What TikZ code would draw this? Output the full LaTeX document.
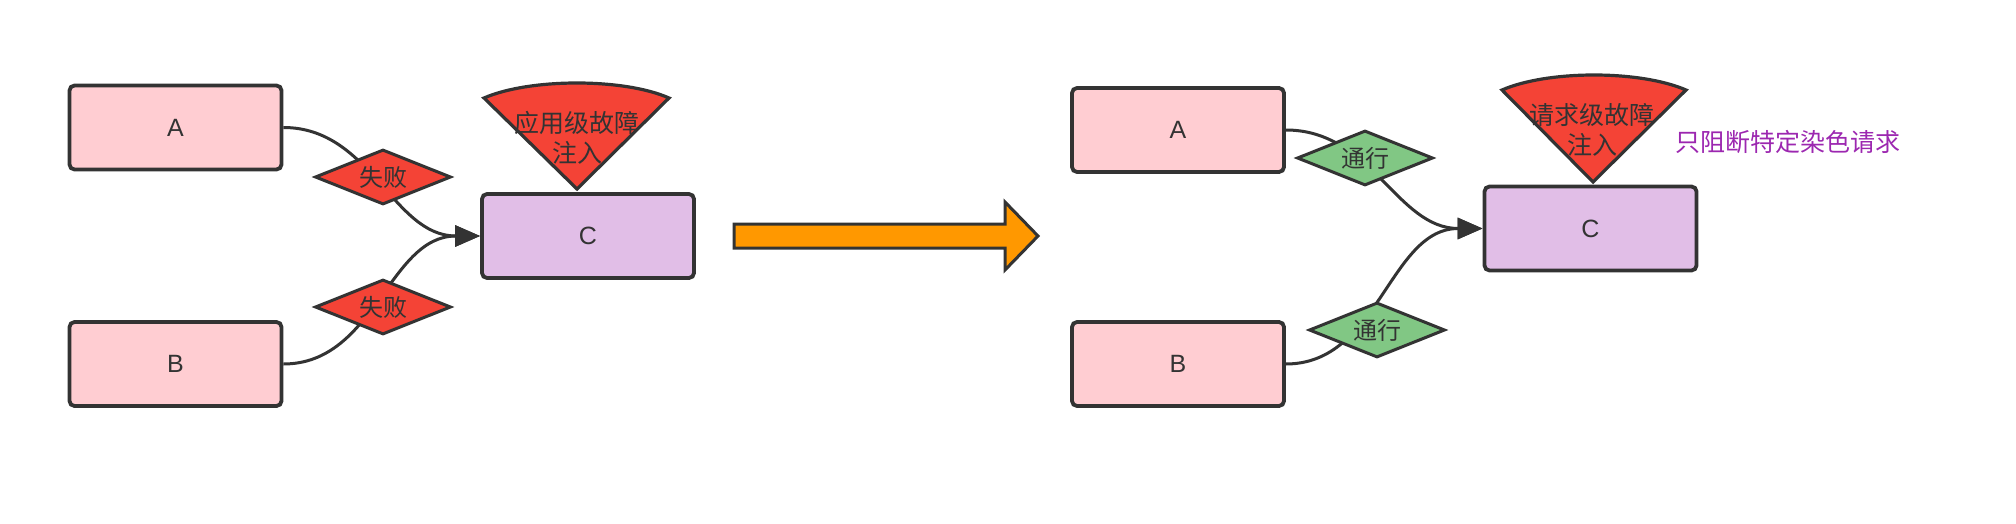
\documentclass[tikz,border=0pt]{standalone}
\usepackage{fontspec}
\setmainfont{Noto Sans CJK SC}
\newfontfamily\latinsans{Liberation Sans}
\usetikzlibrary{shapes.geometric,arrows.meta}
\definecolor{stroke}{HTML}{333333}
\definecolor{txt}{HTML}{333333}
\definecolor{boxpink}{HTML}{FFCDD2}
\definecolor{boxpurple}{HTML}{E1BEE7}
\definecolor{faultred}{HTML}{F44336}
\definecolor{passgreen}{HTML}{81C784}
\definecolor{bigorange}{HTML}{FF9800}
\definecolor{notepurple}{HTML}{9C27B0}
\tikzset{
  box/.style={draw=stroke, line width=1.9pt, rounded corners=2.5pt, minimum width=106pt, minimum height=42pt, inner sep=0pt, text=txt, font=\latinsans\fontsize{12.5}{14}\selectfont},
  pinkbox/.style={box, fill=boxpink},
  purplebox/.style={box, fill=boxpurple},
  gate/.style={diamond, draw=stroke, line width=1.5pt, minimum width=68pt, minimum height=27.5pt, aspect=2.4, inner sep=0pt, text=txt, font=\fontsize{12}{14}\selectfont},
  failgate/.style={gate, fill=faultred},
  passgate/.style={gate, fill=passgreen},
  conn/.style={draw=stroke, line width=1.5pt, -{Triangle[length=12.5pt,width=10.5pt]}},
  fan/.style={draw=stroke, line width=1.6pt, fill=faultred, line join=miter},
  fantext/.style={align=center, text=txt, inner sep=0pt, font=\fontsize{12.5}{15}\selectfont},
  bigarrow/.style={draw=stroke, line width=1.5pt, fill=bigorange, line join=miter},
  note/.style={text=notepurple, inner sep=0pt, font=\fontsize{12.5}{15}\selectfont}
}
\begin{document}
\begin{tikzpicture}[x=0.5pt,y=-0.5pt]
\useasboundingbox (0,0) rectangle (2016,524);
% left scenario
\node[pinkbox] (A1) at (175.5,127.5) {A};
\node[pinkbox] (B1) at (175.5,364) {B};
\node[purplebox] (C1) at (588,236) {C};
\draw[conn] (A1.east) to[out=0,in=180] (C1.west);
\draw[conn] (B1.east) to[out=0,in=180] (C1.west);
\node[failgate] (G1) at (383,177) {失败};
\node[failgate] (G2) at (383,307) {失败};
\draw[fan] (484,98) .. controls (530,78) and (624,78) .. (669,98) -- (577,189) -- cycle;
\node[fantext] (F1) at (577,138) {应用级故障\\注入};
% big arrow
\draw[bigarrow] (734,224) -- (1005,224) -- (1005,202) -- (1038,236) -- (1005,270) -- (1005,248) -- (734,248) -- cycle;
% right scenario
\node[pinkbox] (A2) at (1178,130) {A};
\node[pinkbox] (B2) at (1178,364) {B};
\node[purplebox] (C2) at (1590.5,228.5) {C};
\draw[conn] (A2.east) to[out=0,in=180] (C2.west);
\draw[conn] (B2.east) to[out=0,in=180] (C2.west);
\node[passgate] (G3) at (1365,158) {通行};
\node[passgate] (G4) at (1377,330) {通行};
\draw[fan] (1502,90) .. controls (1548,70) and (1640,70) .. (1686,90) -- (1593,182) -- cycle;
\node[fantext] (F2) at (1592,130) {请求级故障\\注入};
\node[note] (N) at (1788,142) {只阻断特定染色请求};
\end{tikzpicture}
\end{document}
